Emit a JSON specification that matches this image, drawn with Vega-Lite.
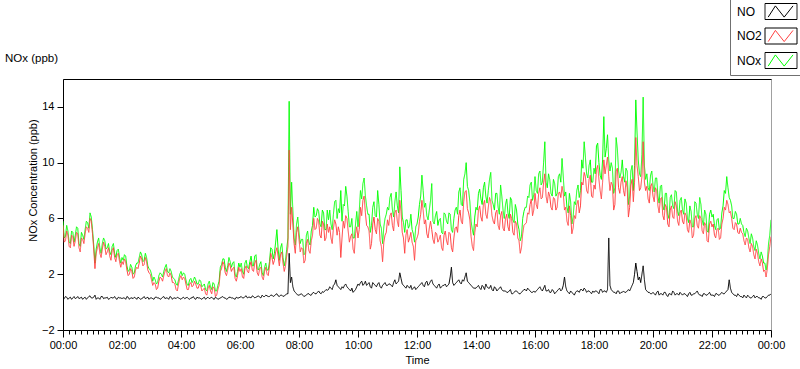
{
"$schema":"https://vega.github.io/schema/vega-lite/v6.json",
"width":708,"height":251,
"autosize":{"type":"none"},
"padding":{"left":63,"top":79,"right":29,"bottom":39},
"background":"#ffffff",
"title":{"text":"NOx (ppb)","anchor":"start","frame":"group","dx":-58,"offset":-66,"font":"Liberation Sans","fontSize":11.5,"fontWeight":"normal","color":"#000000"},
"data":{"values":[
{"t":0,"NO":0.3,"NO2":5.5,"NOx":5.8},{"t":2.5,"NO":0.25,"NO2":4.3,"NOx":4.6},{"t":5,"NO":0.4,"NO2":4.4,"NOx":4.7},{"t":7.5,"NO":0.35,"NO2":5.1,"NOx":5.5},{"t":10,"NO":0.2,"NO2":4.8,"NOx":5.1},{"t":12.5,"NO":0.3,"NO2":4.0,"NOx":4.3},{"t":15,"NO":0.35,"NO2":3.9,"NOx":4.2},{"t":17.5,"NO":0.2,"NO2":4.8,"NOx":5.1},{"t":20,"NO":0.3,"NO2":4.7,"NOx":5.0},{"t":22.5,"NO":0.4,"NO2":4.0,"NOx":4.3},{"t":25,"NO":0.25,"NO2":4.4,"NOx":4.8},{"t":27.5,"NO":0.3,"NO2":5.0,"NOx":5.4},{"t":30,"NO":0.4,"NO2":4.9,"NOx":5.3},{"t":32.5,"NO":0.25,"NO2":3.9,"NOx":4.2},{"t":35,"NO":0.3,"NO2":3.6,"NOx":4.0},{"t":37.5,"NO":0.35,"NO2":4.6,"NOx":5.0},{"t":40,"NO":0.2,"NO2":4.5,"NOx":4.8},{"t":42.5,"NO":0.3,"NO2":4.2,"NOx":4.5},{"t":45,"NO":0.35,"NO2":4.9,"NOx":5.2},{"t":47.5,"NO":0.2,"NO2":5.4,"NOx":5.8},{"t":50,"NO":0.3,"NO2":5.3,"NOx":5.7},{"t":52.5,"NO":0.4,"NO2":5.0,"NOx":5.3},{"t":55,"NO":0.45,"NO2":6.0,"NOx":6.4},{"t":57.5,"NO":0.3,"NO2":5.8,"NOx":6.1},
{"t":60,"NO":0.3,"NO2":4.9,"NOx":5.2},{"t":62.5,"NO":0.35,"NO2":3.8,"NOx":4.1},{"t":65,"NO":0.5,"NO2":2.4,"NOx":2.8},{"t":67.5,"NO":0.2,"NO2":3.5,"NOx":3.8},{"t":70,"NO":0.3,"NO2":3.9,"NOx":4.3},{"t":72.5,"NO":0.3,"NO2":4.2,"NOx":4.6},{"t":75,"NO":0.2,"NO2":3.5,"NOx":3.9},{"t":77.5,"NO":0.4,"NO2":3.2,"NOx":3.5},{"t":80,"NO":0.4,"NO2":3.8,"NOx":4.2},{"t":82.5,"NO":0.25,"NO2":4.3,"NOx":4.6},{"t":85,"NO":0.3,"NO2":4.0,"NOx":4.4},{"t":87.5,"NO":0.3,"NO2":3.4,"NOx":3.8},{"t":90,"NO":0.35,"NO2":3.6,"NOx":3.9},{"t":92.5,"NO":0.2,"NO2":3.9,"NOx":4.2},{"t":95,"NO":0.25,"NO2":3.3,"NOx":3.6},{"t":97.5,"NO":0.35,"NO2":3.0,"NOx":3.4},{"t":100,"NO":0.3,"NO2":3.7,"NOx":4.0},{"t":102.5,"NO":0.3,"NO2":3.9,"NOx":4.2},{"t":105,"NO":0.4,"NO2":3.2,"NOx":3.5},{"t":107.5,"NO":0.25,"NO2":2.9,"NOx":3.2},{"t":110,"NO":0.2,"NO2":3.4,"NOx":3.7},{"t":112.5,"NO":0.35,"NO2":3.5,"NOx":3.8},{"t":115,"NO":0.3,"NO2":2.9,"NOx":3.2},{"t":117.5,"NO":0.3,"NO2":2.5,"NOx":2.8},
{"t":120,"NO":0.25,"NO2":2.9,"NOx":3.2},{"t":122.5,"NO":0.3,"NO2":2.7,"NOx":3.0},{"t":125,"NO":0.3,"NO2":3.1,"NOx":3.4},{"t":127.5,"NO":0.2,"NO2":2.9,"NOx":3.3},{"t":130,"NO":0.4,"NO2":2.3,"NOx":2.6},{"t":132.5,"NO":0.35,"NO2":1.9,"NOx":2.2},{"t":135,"NO":0.2,"NO2":2.0,"NOx":2.3},{"t":137.5,"NO":0.3,"NO2":2.4,"NOx":2.7},{"t":140,"NO":0.3,"NO2":2.2,"NOx":2.5},{"t":142.5,"NO":0.25,"NO2":1.7,"NOx":2.0},{"t":145,"NO":0.35,"NO2":1.8,"NOx":2.1},{"t":147.5,"NO":0.3,"NO2":2.3,"NOx":2.6},{"t":150,"NO":0.2,"NO2":2.5,"NOx":2.8},{"t":152.5,"NO":0.35,"NO2":2.4,"NOx":2.8},{"t":155,"NO":0.3,"NO2":2.8,"NOx":3.2},{"t":157.5,"NO":0.2,"NO2":3.3,"NOx":3.6},{"t":160,"NO":0.25,"NO2":3.1,"NOx":3.4},{"t":162.5,"NO":0.3,"NO2":2.6,"NOx":2.9},{"t":165,"NO":0.4,"NO2":2.7,"NOx":3.0},{"t":167.5,"NO":0.25,"NO2":3.2,"NOx":3.5},{"t":170,"NO":0.3,"NO2":2.9,"NOx":3.2},{"t":172.5,"NO":0.35,"NO2":2.3,"NOx":2.6},{"t":175,"NO":0.2,"NO2":2.1,"NOx":2.4},{"t":177.5,"NO":0.3,"NO2":2.0,"NOx":2.3},
{"t":180,"NO":0.3,"NO2":1.6,"NOx":2.0},{"t":182.5,"NO":0.25,"NO2":1.2,"NOx":1.5},{"t":185,"NO":0.2,"NO2":1.4,"NOx":1.8},{"t":187.5,"NO":0.35,"NO2":1.3,"NOx":1.6},{"t":190,"NO":0.35,"NO2":0.9,"NOx":1.3},{"t":192.5,"NO":0.3,"NO2":1.0,"NOx":1.4},{"t":195,"NO":0.3,"NO2":1.5,"NOx":1.9},{"t":197.5,"NO":0.2,"NO2":1.8,"NOx":2.1},{"t":200,"NO":0.25,"NO2":1.7,"NOx":2.0},{"t":202.5,"NO":0.35,"NO2":1.5,"NOx":1.8},{"t":205,"NO":0.4,"NO2":1.9,"NOx":2.2},{"t":207.5,"NO":0.25,"NO2":2.2,"NOx":2.5},{"t":210,"NO":0.3,"NO2":2.4,"NOx":2.7},{"t":212.5,"NO":0.3,"NO2":1.9,"NOx":2.2},{"t":215,"NO":0.2,"NO2":1.8,"NOx":2.1},{"t":217.5,"NO":0.4,"NO2":2.1,"NOx":2.4},{"t":220,"NO":0.35,"NO2":1.9,"NOx":2.2},{"t":222.5,"NO":0.2,"NO2":1.4,"NOx":1.8},{"t":225,"NO":0.3,"NO2":1.4,"NOx":1.7},{"t":227.5,"NO":0.3,"NO2":1.3,"NOx":1.6},{"t":230,"NO":0.25,"NO2":0.9,"NOx":1.3},{"t":232.5,"NO":0.35,"NO2":0.8,"NOx":1.2},{"t":235,"NO":0.3,"NO2":1.3,"NOx":1.6},{"t":237.5,"NO":0.25,"NO2":1.7,"NOx":2.0},
{"t":240,"NO":0.2,"NO2":1.9,"NOx":2.2},{"t":242.5,"NO":0.3,"NO2":1.6,"NOx":1.9},{"t":245,"NO":0.35,"NO2":1.8,"NOx":2.1},{"t":247.5,"NO":0.25,"NO2":1.7,"NOx":2.0},{"t":250,"NO":0.3,"NO2":1.3,"NOx":1.6},{"t":252.5,"NO":0.35,"NO2":0.9,"NOx":1.25},{"t":255,"NO":0.25,"NO2":0.9,"NOx":1.2},{"t":257.5,"NO":0.2,"NO2":1.3,"NOx":1.6},{"t":260,"NO":0.3,"NO2":1.4,"NOx":1.7},{"t":262.5,"NO":0.3,"NO2":1.1,"NOx":1.4},{"t":265,"NO":0.4,"NO2":1.2,"NOx":1.55},{"t":267.5,"NO":0.25,"NO2":1.5,"NOx":1.8},{"t":270,"NO":0.2,"NO2":1.3,"NOx":1.6},{"t":272.5,"NO":0.35,"NO2":1.0,"NOx":1.3},{"t":275,"NO":0.3,"NO2":1.0,"NOx":1.3},{"t":277.5,"NO":0.3,"NO2":1.3,"NOx":1.6},{"t":280,"NO":0.25,"NO2":1.2,"NOx":1.5},{"t":282.5,"NO":0.2,"NO2":0.8,"NOx":1.1},{"t":285,"NO":0.3,"NO2":0.9,"NOx":1.2},{"t":287.5,"NO":0.35,"NO2":1.0,"NOx":1.3},{"t":290,"NO":0.2,"NO2":0.6,"NOx":0.9},{"t":292.5,"NO":0.3,"NO2":0.5,"NOx":0.8},{"t":295,"NO":0.35,"NO2":1.0,"NOx":1.3},{"t":297.5,"NO":0.25,"NO2":1.2,"NOx":1.5},
{"t":300,"NO":0.3,"NO2":0.8,"NOx":1.1},{"t":302.5,"NO":0.35,"NO2":0.6,"NOx":0.9},{"t":305,"NO":0.25,"NO2":1.1,"NOx":1.4},{"t":307.5,"NO":0.2,"NO2":1.0,"NOx":1.3},{"t":310,"NO":0.35,"NO2":0.4,"NOx":0.8},{"t":312.5,"NO":0.3,"NO2":0.5,"NOx":0.8},{"t":315,"NO":0.2,"NO2":0.9,"NOx":1.2},{"t":317.5,"NO":0.25,"NO2":1.2,"NOx":1.5},{"t":320,"NO":0.3,"NO2":2.2,"NOx":2.5},{"t":322.5,"NO":0.35,"NO2":2.4,"NOx":2.7},{"t":325,"NO":0.4,"NO2":2.9,"NOx":3.1},{"t":327.5,"NO":0.3,"NO2":2.7,"NOx":3.1},{"t":330,"NO":0.3,"NO2":2.1,"NOx":2.5},{"t":332.5,"NO":0.2,"NO2":1.9,"NOx":2.2},{"t":335,"NO":0.25,"NO2":2.3,"NOx":2.6},{"t":337.5,"NO":0.35,"NO2":2.8,"NOx":3.2},{"t":340,"NO":0.35,"NO2":2.6,"NOx":2.9},{"t":342.5,"NO":0.3,"NO2":2.2,"NOx":2.5},{"t":345,"NO":0.3,"NO2":2.4,"NOx":2.8},{"t":347.5,"NO":0.25,"NO2":2.5,"NOx":2.9},{"t":350,"NO":0.2,"NO2":1.7,"NOx":2.0},{"t":352.5,"NO":0.35,"NO2":1.5,"NOx":1.8},{"t":355,"NO":0.3,"NO2":1.9,"NOx":2.2},{"t":357.5,"NO":0.3,"NO2":2.5,"NOx":2.8},
{"t":360,"NO":0.35,"NO2":2.2,"NOx":2.5},{"t":362.5,"NO":0.4,"NO2":2.4,"NOx":2.8},{"t":365,"NO":0.3,"NO2":1.8,"NOx":2.2},{"t":367.5,"NO":0.3,"NO2":1.7,"NOx":2.0},{"t":370,"NO":0.4,"NO2":2.4,"NOx":2.8},{"t":372.5,"NO":0.45,"NO2":2.6,"NOx":3.0},{"t":375,"NO":0.3,"NO2":2.2,"NOx":2.5},{"t":377.5,"NO":0.35,"NO2":2.1,"NOx":2.4},{"t":380,"NO":0.35,"NO2":2.6,"NOx":2.9},{"t":382.5,"NO":0.3,"NO2":2.9,"NOx":3.3},{"t":385,"NO":0.45,"NO2":2.3,"NOx":2.6},{"t":387.5,"NO":0.4,"NO2":2.2,"NOx":2.6},{"t":390,"NO":0.3,"NO2":2.8,"NOx":3.3},{"t":392.5,"NO":0.35,"NO2":3.0,"NOx":3.4},{"t":395,"NO":0.4,"NO2":2.1,"NOx":2.4},{"t":397.5,"NO":0.45,"NO2":1.9,"NOx":2.3},{"t":400,"NO":0.35,"NO2":2.4,"NOx":2.7},{"t":402.5,"NO":0.3,"NO2":2.5,"NOx":2.9},{"t":405,"NO":0.5,"NO2":1.8,"NOx":2.1},{"t":407.5,"NO":0.4,"NO2":1.6,"NOx":1.9},{"t":410,"NO":0.4,"NO2":2.2,"NOx":2.5},{"t":412.5,"NO":0.5,"NO2":2.5,"NOx":2.8},{"t":415,"NO":0.45,"NO2":2.0,"NOx":2.3},{"t":417.5,"NO":0.4,"NO2":1.9,"NOx":2.3},
{"t":420,"NO":0.4,"NO2":2.6,"NOx":2.9},{"t":422.5,"NO":0.5,"NO2":3.5,"NOx":3.9},{"t":425,"NO":0.5,"NO2":3.2,"NOx":3.8},{"t":427.5,"NO":0.4,"NO2":2.7,"NOx":3.1},{"t":430,"NO":0.45,"NO2":3.0,"NOx":3.5},{"t":432.5,"NO":0.55,"NO2":3.6,"NOx":4.3},{"t":435,"NO":0.6,"NO2":3.9,"NOx":5.2},{"t":437.5,"NO":0.45,"NO2":3.3,"NOx":3.8},{"t":440,"NO":0.4,"NO2":2.6,"NOx":3.0},{"t":442.5,"NO":0.5,"NO2":3.4,"NOx":3.9},{"t":445,"NO":0.5,"NO2":3.6,"NOx":4.2},{"t":447.5,"NO":0.4,"NO2":2.8,"NOx":3.2},{"t":450,"NO":0.45,"NO2":2.2,"NOx":2.6},{"t":452.5,"NO":0.5,"NO2":2.6,"NOx":3.0},{"t":455,"NO":0.6,"NO2":3.3,"NOx":3.8},{"t":457.5,"NO":0.6,"NO2":4.0,"NOx":4.6},{"t":460,"NO":3.5,"NO2":10.9,"NOx":14.4},{"t":462.5,"NO":1.4,"NO2":5.2,"NOx":6.3},{"t":465,"NO":1.8,"NO2":6.8,"NOx":8.6},{"t":467.5,"NO":1.1,"NO2":5.6,"NOx":6.6},{"t":470,"NO":0.8,"NO2":4.2,"NOx":4.6},{"t":472.5,"NO":0.7,"NO2":3.5,"NOx":4.1},{"t":475,"NO":0.6,"NO2":5.0,"NOx":5.6},{"t":477.5,"NO":0.5,"NO2":5.4,"NOx":6.1},
{"t":480,"NO":0.5,"NO2":4.5,"NOx":5.0},{"t":482.5,"NO":0.55,"NO2":3.6,"NOx":4.2},{"t":485,"NO":0.6,"NO2":3.9,"NOx":4.5},{"t":487.5,"NO":0.5,"NO2":3.8,"NOx":4.5},{"t":490,"NO":0.4,"NO2":2.8,"NOx":3.4},{"t":492.5,"NO":0.45,"NO2":3.0,"NOx":3.5},{"t":495,"NO":0.5,"NO2":4.2,"NOx":4.8},{"t":497.5,"NO":0.6,"NO2":4.5,"NOx":5.1},{"t":500,"NO":0.6,"NO2":3.7,"NOx":4.3},{"t":502.5,"NO":0.5,"NO2":3.5,"NOx":4.1},{"t":505,"NO":0.5,"NO2":4.4,"NOx":5.1},{"t":507.5,"NO":0.65,"NO2":4.8,"NOx":5.5},{"t":510,"NO":0.7,"NO2":6.0,"NOx":6.8},{"t":512.5,"NO":0.6,"NO2":5.2,"NOx":6.1},{"t":515,"NO":0.6,"NO2":5.3,"NOx":6.2},{"t":517.5,"NO":0.7,"NO2":6.0,"NOx":6.7},{"t":520,"NO":0.8,"NO2":5.8,"NOx":6.5},{"t":522.5,"NO":0.65,"NO2":4.8,"NOx":5.6},{"t":525,"NO":0.6,"NO2":4.6,"NOx":5.4},{"t":527.5,"NO":0.75,"NO2":5.8,"NOx":6.6},{"t":530,"NO":0.7,"NO2":5.6,"NOx":6.4},{"t":532.5,"NO":0.8,"NO2":4.4,"NOx":5.2},{"t":535,"NO":0.9,"NO2":4.6,"NOx":5.2},{"t":537.5,"NO":0.85,"NO2":5.6,"NOx":6.6},
{"t":540,"NO":0.9,"NO2":5.0,"NOx":5.9},{"t":542.5,"NO":1.1,"NO2":5.4,"NOx":6.6},{"t":545,"NO":1.0,"NO2":4.6,"NOx":5.6},{"t":547.5,"NO":0.9,"NO2":4.2,"NOx":5.2},{"t":550,"NO":1.2,"NO2":5.3,"NOx":6.3},{"t":552.5,"NO":1.3,"NO2":5.9,"NOx":7.2},{"t":555,"NO":1.6,"NO2":5.6,"NOx":7.3},{"t":557.5,"NO":1.2,"NO2":4.8,"NOx":6.0},{"t":560,"NO":1.1,"NO2":5.4,"NOx":6.7},{"t":562.5,"NO":1.0,"NO2":5.0,"NOx":6.4},{"t":565,"NO":0.9,"NO2":3.2,"NOx":8.0},{"t":567.5,"NO":1.1,"NO2":4.6,"NOx":5.8},{"t":570,"NO":1.0,"NO2":5.8,"NOx":7.0},{"t":572.5,"NO":1.2,"NO2":5.3,"NOx":6.9},{"t":575,"NO":1.3,"NO2":6.2,"NOx":8.3},{"t":577.5,"NO":1.1,"NO2":6.0,"NOx":7.6},{"t":580,"NO":1.0,"NO2":5.1,"NOx":6.5},{"t":582.5,"NO":0.9,"NO2":4.3,"NOx":5.4},{"t":585,"NO":0.8,"NO2":4.7,"NOx":5.4},{"t":587.5,"NO":1.0,"NO2":4.9,"NOx":6.0},{"t":590,"NO":0.7,"NO2":3.8,"NOx":4.6},{"t":592.5,"NO":0.8,"NO2":3.5,"NOx":4.6},{"t":595,"NO":0.9,"NO2":4.9,"NOx":5.6},{"t":597.5,"NO":1.1,"NO2":5.4,"NOx":6.5},
{"t":600,"NO":1.3,"NO2":4.6,"NOx":5.4},{"t":602.5,"NO":1.2,"NO2":5.2,"NOx":6.5},{"t":605,"NO":1.4,"NO2":6.8,"NOx":8.0},{"t":607.5,"NO":1.5,"NO2":6.2,"NOx":7.4},{"t":610,"NO":1.2,"NO2":7.3,"NOx":8.5},{"t":612.5,"NO":1.3,"NO2":7.6,"NOx":8.9},{"t":615,"NO":1.5,"NO2":6.4,"NOx":7.6},{"t":617.5,"NO":1.2,"NO2":5.5,"NOx":6.9},{"t":620,"NO":1.3,"NO2":5.4,"NOx":6.3},{"t":622.5,"NO":1.4,"NO2":5.1,"NOx":6.3},{"t":625,"NO":1.1,"NO2":3.8,"NOx":5.0},{"t":627.5,"NO":1.0,"NO2":4.2,"NOx":5.5},{"t":630,"NO":1.4,"NO2":5.6,"NOx":6.8},{"t":632.5,"NO":1.3,"NO2":6.1,"NOx":7.2},{"t":635,"NO":1.2,"NO2":5.2,"NOx":6.2},{"t":637.5,"NO":1.1,"NO2":4.9,"NOx":6.1},{"t":640,"NO":1.3,"NO2":6.0,"NOx":8.0},{"t":642.5,"NO":1.4,"NO2":5.8,"NOx":7.0},{"t":645,"NO":1.1,"NO2":4.4,"NOx":5.6},{"t":647.5,"NO":1.0,"NO2":4.0,"NOx":5.3},{"t":650,"NO":1.2,"NO2":2.9,"NOx":4.2},{"t":652.5,"NO":1.3,"NO2":4.3,"NOx":5.4},{"t":655,"NO":1.4,"NO2":4.8,"NOx":6.0},{"t":657.5,"NO":1.2,"NO2":5.0,"NOx":6.3},
{"t":660,"NO":1.2,"NO2":5.9,"NOx":6.8},{"t":662.5,"NO":1.3,"NO2":5.5,"NOx":6.6},{"t":665,"NO":1.3,"NO2":6.2,"NOx":7.5},{"t":667.5,"NO":1.2,"NO2":6.4,"NOx":7.8},{"t":670,"NO":1.1,"NO2":5.5,"NOx":6.6},{"t":672.5,"NO":1.4,"NO2":5.1,"NOx":6.1},{"t":675,"NO":1.6,"NO2":6.4,"NOx":7.2},{"t":677.5,"NO":1.3,"NO2":6.6,"NOx":7.9},{"t":680,"NO":1.4,"NO2":5.8,"NOx":6.9},{"t":682.5,"NO":1.5,"NO2":5.4,"NOx":6.4},{"t":685,"NO":2.1,"NO2":7.3,"NOx":9.7},{"t":687.5,"NO":1.7,"NO2":6.5,"NOx":8.0},{"t":690,"NO":1.3,"NO2":5.0,"NOx":6.1},{"t":692.5,"NO":1.2,"NO2":4.6,"NOx":5.7},{"t":695,"NO":1.1,"NO2":3.5,"NOx":5.0},{"t":697.5,"NO":1.0,"NO2":4.8,"NOx":5.9},{"t":700,"NO":1.2,"NO2":5.2,"NOx":5.9},{"t":702.5,"NO":1.1,"NO2":4.3,"NOx":5.3},{"t":705,"NO":1.0,"NO2":4.6,"NOx":5.5},{"t":707.5,"NO":1.2,"NO2":5.0,"NOx":6.3},{"t":710,"NO":0.9,"NO2":4.3,"NOx":5.2},{"t":712.5,"NO":1.0,"NO2":4.0,"NOx":4.9},{"t":715,"NO":1.1,"NO2":3.0,"NOx":4.3},{"t":717.5,"NO":0.9,"NO2":4.4,"NOx":5.4},
{"t":720,"NO":1.0,"NO2":4.6,"NOx":5.6},{"t":722.5,"NO":1.1,"NO2":4.9,"NOx":6.1},{"t":725,"NO":1.2,"NO2":5.8,"NOx":7.0},{"t":727.5,"NO":1.3,"NO2":6.3,"NOx":7.6},{"t":730,"NO":1.4,"NO2":7.3,"NOx":9.1},{"t":732.5,"NO":1.2,"NO2":6.6,"NOx":8.0},{"t":735,"NO":1.1,"NO2":5.6,"NOx":6.8},{"t":737.5,"NO":1.4,"NO2":5.9,"NOx":7.1},{"t":740,"NO":1.5,"NO2":4.9,"NOx":6.2},{"t":742.5,"NO":1.2,"NO2":4.6,"NOx":5.9},{"t":745,"NO":1.3,"NO2":5.3,"NOx":6.6},{"t":747.5,"NO":1.5,"NO2":5.8,"NOx":7.3},{"t":750,"NO":1.6,"NO2":5.2,"NOx":8.5},{"t":752.5,"NO":1.3,"NO2":4.5,"NOx":5.8},{"t":755,"NO":1.2,"NO2":4.2,"NOx":5.6},{"t":757.5,"NO":1.1,"NO2":5.0,"NOx":6.2},{"t":760,"NO":1.0,"NO2":4.9,"NOx":6.5},{"t":762.5,"NO":1.2,"NO2":4.3,"NOx":5.5},{"t":765,"NO":1.3,"NO2":4.5,"NOx":5.9},{"t":767.5,"NO":1.0,"NO2":4.8,"NOx":6.0},{"t":770,"NO":1.1,"NO2":3.9,"NOx":5.0},{"t":772.5,"NO":1.2,"NO2":3.7,"NOx":4.9},{"t":775,"NO":1.2,"NO2":4.8,"NOx":6.4},{"t":777.5,"NO":1.3,"NO2":5.1,"NOx":6.3},
{"t":780,"NO":1.1,"NO2":4.4,"NOx":5.8},{"t":782.5,"NO":1.2,"NO2":4.1,"NOx":5.6},{"t":785,"NO":1.3,"NO2":5.0,"NOx":6.4},{"t":787.5,"NO":1.8,"NO2":4.9,"NOx":6.3},{"t":790,"NO":2.5,"NO2":3.9,"NOx":5.2},{"t":792.5,"NO":1.4,"NO2":3.6,"NOx":5.0},{"t":795,"NO":1.2,"NO2":4.6,"NOx":6.0},{"t":797.5,"NO":1.3,"NO2":5.3,"NOx":6.6},{"t":800,"NO":1.4,"NO2":5.4,"NOx":6.8},{"t":802.5,"NO":1.5,"NO2":5.0,"NOx":6.3},{"t":805,"NO":1.6,"NO2":6.2,"NOx":7.9},{"t":807.5,"NO":1.4,"NO2":6.6,"NOx":8.2},{"t":810,"NO":1.3,"NO2":5.8,"NOx":7.0},{"t":812.5,"NO":1.6,"NO2":5.6,"NOx":6.9},{"t":815,"NO":1.5,"NO2":7.2,"NOx":8.8},{"t":817.5,"NO":1.8,"NO2":7.9,"NOx":9.2},{"t":820,"NO":2.1,"NO2":8.0,"NOx":10.0},{"t":822.5,"NO":1.5,"NO2":6.7,"NOx":8.3},{"t":825,"NO":1.4,"NO2":6.4,"NOx":8.0},{"t":827.5,"NO":1.3,"NO2":5.9,"NOx":7.2},{"t":830,"NO":1.2,"NO2":4.7,"NOx":5.8},{"t":832.5,"NO":1.1,"NO2":4.0,"NOx":5.2},{"t":835,"NO":1.0,"NO2":3.7,"NOx":4.8},{"t":837.5,"NO":1.0,"NO2":5.0,"NOx":6.1},
{"t":840,"NO":1.0,"NO2":5.6,"NOx":6.8},{"t":842.5,"NO":1.1,"NO2":5.4,"NOx":6.6},{"t":845,"NO":1.2,"NO2":6.6,"NOx":7.8},{"t":847.5,"NO":1.0,"NO2":6.9,"NOx":8.1},{"t":850,"NO":0.9,"NO2":6.1,"NOx":7.4},{"t":852.5,"NO":1.2,"NO2":5.8,"NOx":7.0},{"t":855,"NO":1.1,"NO2":7.0,"NOx":8.2},{"t":857.5,"NO":0.9,"NO2":7.3,"NOx":8.6},{"t":860,"NO":1.3,"NO2":6.3,"NOx":7.6},{"t":862.5,"NO":1.1,"NO2":6.0,"NOx":7.1},{"t":865,"NO":1.0,"NO2":6.8,"NOx":8.0},{"t":867.5,"NO":1.0,"NO2":7.5,"NOx":8.8},{"t":870,"NO":1.2,"NO2":7.2,"NOx":9.3},{"t":872.5,"NO":0.9,"NO2":6.2,"NOx":7.3},{"t":875,"NO":0.8,"NO2":5.8,"NOx":7.0},{"t":877.5,"NO":1.1,"NO2":5.6,"NOx":6.6},{"t":880,"NO":1.0,"NO2":6.4,"NOx":7.8},{"t":882.5,"NO":0.8,"NO2":6.6,"NOx":7.8},{"t":885,"NO":0.9,"NO2":5.5,"NOx":6.8},{"t":887.5,"NO":1.0,"NO2":5.2,"NOx":6.3},{"t":890,"NO":1.1,"NO2":6.2,"NOx":8.4},{"t":892.5,"NO":0.9,"NO2":6.5,"NOx":7.6},{"t":895,"NO":0.8,"NO2":5.3,"NOx":6.6},{"t":897.5,"NO":0.8,"NO2":5.1,"NOx":6.0},
{"t":900,"NO":0.8,"NO2":6.0,"NOx":7.0},{"t":902.5,"NO":0.7,"NO2":6.3,"NOx":7.4},{"t":905,"NO":0.7,"NO2":5.4,"NOx":6.4},{"t":907.5,"NO":0.8,"NO2":5.1,"NOx":6.0},{"t":910,"NO":0.9,"NO2":6.3,"NOx":7.5},{"t":912.5,"NO":0.6,"NO2":6.0,"NOx":7.3},{"t":915,"NO":0.6,"NO2":5.0,"NOx":5.9},{"t":917.5,"NO":0.7,"NO2":4.8,"NOx":5.7},{"t":920,"NO":0.8,"NO2":5.8,"NOx":7.0},{"t":922.5,"NO":0.8,"NO2":5.6,"NOx":6.6},{"t":925,"NO":0.7,"NO2":4.6,"NOx":5.6},{"t":927.5,"NO":0.6,"NO2":4.4,"NOx":5.2},{"t":930,"NO":0.6,"NO2":3.5,"NOx":4.4},{"t":932.5,"NO":0.7,"NO2":3.9,"NOx":4.7},{"t":935,"NO":0.8,"NO2":4.9,"NOx":6.0},{"t":937.5,"NO":0.9,"NO2":5.5,"NOx":6.5},{"t":940,"NO":0.9,"NO2":5.6,"NOx":6.8},{"t":942.5,"NO":0.8,"NO2":5.7,"NOx":6.8},{"t":945,"NO":1.0,"NO2":6.4,"NOx":7.6},{"t":947.5,"NO":0.9,"NO2":6.3,"NOx":7.5},{"t":950,"NO":0.8,"NO2":7.0,"NOx":8.4},{"t":952.5,"NO":0.7,"NO2":7.4,"NOx":8.6},{"t":955,"NO":0.7,"NO2":6.2,"NOx":7.3},{"t":957.5,"NO":0.8,"NO2":6.6,"NOx":7.7},
{"t":960,"NO":0.7,"NO2":7.8,"NOx":9.0},{"t":962.5,"NO":0.8,"NO2":7.0,"NOx":8.0},{"t":965,"NO":0.9,"NO2":6.7,"NOx":7.8},{"t":967.5,"NO":1.0,"NO2":7.8,"NOx":9.2},{"t":970,"NO":1.1,"NO2":8.2,"NOx":9.4},{"t":972.5,"NO":0.9,"NO2":7.4,"NOx":8.4},{"t":975,"NO":0.8,"NO2":7.5,"NOx":8.6},{"t":977.5,"NO":1.0,"NO2":8.6,"NOx":10.0},{"t":980,"NO":1.2,"NO2":9.2,"NOx":11.5},{"t":982.5,"NO":0.8,"NO2":7.6,"NOx":8.6},{"t":985,"NO":0.8,"NO2":7.1,"NOx":8.2},{"t":987.5,"NO":0.9,"NO2":7.9,"NOx":9.2},{"t":990,"NO":0.7,"NO2":7.6,"NOx":8.8},{"t":992.5,"NO":0.7,"NO2":6.8,"NOx":7.8},{"t":995,"NO":0.9,"NO2":6.6,"NOx":7.6},{"t":997.5,"NO":0.8,"NO2":7.5,"NOx":8.8},{"t":1000,"NO":0.6,"NO2":7.4,"NOx":8.5},{"t":1002.5,"NO":0.7,"NO2":6.6,"NOx":7.6},{"t":1005,"NO":0.8,"NO2":6.8,"NOx":7.8},{"t":1007.5,"NO":0.9,"NO2":7.8,"NOx":9.0},{"t":1010,"NO":1.0,"NO2":7.9,"NOx":9.2},{"t":1012.5,"NO":0.8,"NO2":7.5,"NOx":8.6},{"t":1015,"NO":0.9,"NO2":8.3,"NOx":10.3},{"t":1017.5,"NO":1.2,"NO2":7.8,"NOx":9.0},
{"t":1020,"NO":1.8,"NO2":6.6,"NOx":7.6},{"t":1022.5,"NO":1.1,"NO2":6.8,"NOx":7.9},{"t":1025,"NO":0.8,"NO2":5.8,"NOx":6.8},{"t":1027.5,"NO":0.7,"NO2":5.5,"NOx":6.4},{"t":1030,"NO":0.6,"NO2":6.9,"NOx":7.8},{"t":1032.5,"NO":0.8,"NO2":6.2,"NOx":7.2},{"t":1035,"NO":0.7,"NO2":4.9,"NOx":5.6},{"t":1037.5,"NO":0.6,"NO2":5.3,"NOx":6.1},{"t":1040,"NO":0.5,"NO2":6.2,"NOx":7.2},{"t":1042.5,"NO":0.7,"NO2":6.0,"NOx":7.0},{"t":1045,"NO":0.8,"NO2":7.0,"NOx":8.0},{"t":1047.5,"NO":0.8,"NO2":7.3,"NOx":8.4},{"t":1050,"NO":0.7,"NO2":6.4,"NOx":7.5},{"t":1052.5,"NO":0.9,"NO2":6.9,"NOx":8.0},{"t":1055,"NO":0.9,"NO2":8.6,"NOx":10.2},{"t":1057.5,"NO":0.8,"NO2":8.4,"NOx":9.6},{"t":1060,"NO":1.0,"NO2":9.3,"NOx":11.5},{"t":1062.5,"NO":0.9,"NO2":9.0,"NOx":10.4},{"t":1065,"NO":0.7,"NO2":8.0,"NOx":9.2},{"t":1067.5,"NO":0.8,"NO2":7.8,"NOx":8.9},{"t":1070,"NO":0.8,"NO2":8.8,"NOx":9.8},{"t":1072.5,"NO":0.7,"NO2":9.1,"NOx":10.2},{"t":1075,"NO":0.6,"NO2":7.6,"NOx":8.6},{"t":1077.5,"NO":0.8,"NO2":7.5,"NOx":8.6},
{"t":1080,"NO":0.7,"NO2":8.4,"NOx":9.6},{"t":1082.5,"NO":0.8,"NO2":8.1,"NOx":9.2},{"t":1085,"NO":0.8,"NO2":9.5,"NOx":11.2},{"t":1087.5,"NO":0.7,"NO2":9.8,"NOx":11.4},{"t":1090,"NO":0.6,"NO2":8.8,"NOx":10.0},{"t":1092.5,"NO":0.9,"NO2":8.0,"NOx":9.1},{"t":1095,"NO":0.9,"NO2":7.4,"NOx":8.8},{"t":1097.5,"NO":0.7,"NO2":8.6,"NOx":10.2},{"t":1100,"NO":0.8,"NO2":10.2,"NOx":13.3},{"t":1102.5,"NO":0.8,"NO2":9.2,"NOx":10.4},{"t":1105,"NO":0.7,"NO2":9.8,"NOx":11.0},{"t":1107.5,"NO":0.9,"NO2":10.4,"NOx":12.0},{"t":1110,"NO":4.6,"NO2":9.0,"NOx":10.2},{"t":1112.5,"NO":1.2,"NO2":8.0,"NOx":9.4},{"t":1115,"NO":0.9,"NO2":8.6,"NOx":10.0},{"t":1117.5,"NO":0.8,"NO2":8.4,"NOx":9.6},{"t":1120,"NO":0.7,"NO2":6.6,"NOx":7.8},{"t":1122.5,"NO":0.7,"NO2":7.0,"NOx":8.2},{"t":1125,"NO":0.6,"NO2":9.4,"NOx":11.8},{"t":1127.5,"NO":0.8,"NO2":9.6,"NOx":11.0},{"t":1130,"NO":0.8,"NO2":8.2,"NOx":9.4},{"t":1132.5,"NO":0.6,"NO2":7.8,"NOx":8.9},{"t":1135,"NO":0.7,"NO2":8.6,"NOx":9.3},{"t":1137.5,"NO":0.7,"NO2":9.0,"NOx":10.2},
{"t":1140,"NO":0.8,"NO2":8.0,"NOx":9.0},{"t":1142.5,"NO":0.7,"NO2":7.6,"NOx":8.6},{"t":1145,"NO":0.7,"NO2":8.7,"NOx":9.6},{"t":1147.5,"NO":0.8,"NO2":8.2,"NOx":9.4},{"t":1150,"NO":0.9,"NO2":6.1,"NOx":7.0},{"t":1152.5,"NO":0.8,"NO2":6.8,"NOx":7.6},{"t":1155,"NO":1.0,"NO2":8.4,"NOx":9.4},{"t":1157.5,"NO":1.2,"NO2":8.8,"NOx":9.8},{"t":1160,"NO":1.4,"NO2":7.2,"NOx":8.0},{"t":1162.5,"NO":2.0,"NO2":8.6,"NOx":9.8},{"t":1165,"NO":2.8,"NO2":11.8,"NOx":14.5},{"t":1167.5,"NO":2.2,"NO2":9.8,"NOx":12.2},{"t":1170,"NO":1.6,"NO2":9.0,"NOx":10.2},{"t":1172.5,"NO":1.8,"NO2":8.0,"NOx":9.2},{"t":1175,"NO":1.4,"NO2":8.2,"NOx":9.0},{"t":1177.5,"NO":2.0,"NO2":9.0,"NOx":10.6},{"t":1180,"NO":2.6,"NO2":11.5,"NOx":14.7},{"t":1182.5,"NO":1.6,"NO2":8.6,"NOx":9.8},{"t":1185,"NO":0.9,"NO2":8.0,"NOx":8.8},{"t":1187.5,"NO":0.8,"NO2":8.3,"NOx":9.2},{"t":1190,"NO":0.7,"NO2":7.4,"NOx":8.2},{"t":1192.5,"NO":0.7,"NO2":7.1,"NOx":8.0},{"t":1195,"NO":0.6,"NO2":8.3,"NOx":9.1},{"t":1197.5,"NO":0.6,"NO2":8.5,"NOx":9.4},
{"t":1200,"NO":0.7,"NO2":7.6,"NOx":8.4},{"t":1202.5,"NO":0.6,"NO2":7.2,"NOx":7.9},{"t":1205,"NO":0.5,"NO2":8.2,"NOx":8.9},{"t":1207.5,"NO":0.7,"NO2":8.0,"NOx":8.9},{"t":1210,"NO":0.8,"NO2":6.9,"NOx":7.6},{"t":1212.5,"NO":0.5,"NO2":6.4,"NOx":7.1},{"t":1215,"NO":0.6,"NO2":7.4,"NOx":8.3},{"t":1217.5,"NO":0.6,"NO2":7.5,"NOx":8.4},{"t":1220,"NO":0.5,"NO2":6.2,"NOx":6.9},{"t":1222.5,"NO":0.7,"NO2":5.9,"NOx":6.6},{"t":1225,"NO":0.7,"NO2":7.0,"NOx":7.8},{"t":1227.5,"NO":0.5,"NO2":6.8,"NOx":7.8},{"t":1230,"NO":0.4,"NO2":5.6,"NOx":6.3},{"t":1232.5,"NO":0.6,"NO2":5.4,"NOx":6.0},{"t":1235,"NO":0.6,"NO2":6.6,"NOx":7.5},{"t":1237.5,"NO":0.5,"NO2":6.9,"NOx":7.7},{"t":1240,"NO":0.8,"NO2":6.1,"NOx":6.9},{"t":1242.5,"NO":0.7,"NO2":6.0,"NOx":6.7},{"t":1245,"NO":0.5,"NO2":7.2,"NOx":8.0},{"t":1247.5,"NO":0.6,"NO2":6.9,"NOx":7.9},{"t":1250,"NO":0.6,"NO2":5.8,"NOx":6.5},{"t":1252.5,"NO":0.5,"NO2":5.5,"NOx":6.2},{"t":1255,"NO":0.7,"NO2":6.4,"NOx":7.3},{"t":1257.5,"NO":0.6,"NO2":6.6,"NOx":7.5},
{"t":1260,"NO":0.5,"NO2":5.8,"NOx":6.6},{"t":1262.5,"NO":0.6,"NO2":5.6,"NOx":6.3},{"t":1265,"NO":0.6,"NO2":6.4,"NOx":7.4},{"t":1267.5,"NO":0.5,"NO2":6.2,"NOx":7.1},{"t":1270,"NO":0.4,"NO2":5.2,"NOx":6.0},{"t":1272.5,"NO":0.6,"NO2":5.0,"NOx":5.7},{"t":1275,"NO":0.7,"NO2":5.9,"NOx":6.9},{"t":1277.5,"NO":0.5,"NO2":5.6,"NOx":6.5},{"t":1280,"NO":0.5,"NO2":4.6,"NOx":5.4},{"t":1282.5,"NO":0.6,"NO2":4.8,"NOx":5.4},{"t":1285,"NO":0.6,"NO2":6.0,"NOx":7.2},{"t":1287.5,"NO":0.7,"NO2":6.2,"NOx":7.1},{"t":1290,"NO":0.8,"NO2":5.5,"NOx":6.3},{"t":1292.5,"NO":0.6,"NO2":5.3,"NOx":6.0},{"t":1295,"NO":0.5,"NO2":6.2,"NOx":7.5},{"t":1297.5,"NO":0.5,"NO2":6.0,"NOx":7.0},{"t":1300,"NO":0.4,"NO2":5.1,"NOx":5.9},{"t":1302.5,"NO":0.6,"NO2":4.9,"NOx":5.5},{"t":1305,"NO":0.6,"NO2":5.7,"NOx":6.6},{"t":1307.5,"NO":0.5,"NO2":5.5,"NOx":6.3},{"t":1310,"NO":0.5,"NO2":4.4,"NOx":5.1},{"t":1312.5,"NO":0.6,"NO2":4.3,"NOx":5.0},{"t":1315,"NO":0.7,"NO2":5.6,"NOx":6.3},{"t":1317.5,"NO":0.5,"NO2":5.8,"NOx":6.6},
{"t":1320,"NO":0.5,"NO2":5.4,"NOx":6.1},{"t":1322.5,"NO":0.5,"NO2":5.6,"NOx":6.3},{"t":1325,"NO":0.4,"NO2":4.8,"NOx":5.5},{"t":1327.5,"NO":0.6,"NO2":4.6,"NOx":5.2},{"t":1330,"NO":0.6,"NO2":5.2,"NOx":5.9},{"t":1332.5,"NO":0.5,"NO2":5.3,"NOx":6.0},{"t":1335,"NO":0.5,"NO2":4.5,"NOx":5.2},{"t":1337.5,"NO":0.6,"NO2":4.6,"NOx":5.3},{"t":1340,"NO":0.7,"NO2":5.6,"NOx":6.4},{"t":1342.5,"NO":0.6,"NO2":6.0,"NOx":6.9},{"t":1345,"NO":0.6,"NO2":6.8,"NOx":8.0},{"t":1347.5,"NO":0.7,"NO2":6.6,"NOx":7.8},{"t":1350,"NO":0.8,"NO2":7.3,"NOx":9.0},{"t":1352.5,"NO":0.9,"NO2":7.0,"NOx":8.2},{"t":1355,"NO":1.6,"NO2":6.4,"NOx":7.5},{"t":1357.5,"NO":1.0,"NO2":6.5,"NOx":7.3},{"t":1360,"NO":0.7,"NO2":6.0,"NOx":6.9},{"t":1362.5,"NO":0.6,"NO2":5.3,"NOx":6.0},{"t":1365,"NO":0.5,"NO2":5.2,"NOx":6.0},{"t":1367.5,"NO":0.5,"NO2":5.7,"NOx":6.5},{"t":1370,"NO":0.4,"NO2":5.6,"NOx":6.3},{"t":1372.5,"NO":0.6,"NO2":5.0,"NOx":5.6},{"t":1375,"NO":0.5,"NO2":4.9,"NOx":5.6},{"t":1377.5,"NO":0.4,"NO2":5.3,"NOx":6.0},
{"t":1380,"NO":0.4,"NO2":5.0,"NOx":5.6},{"t":1382.5,"NO":0.3,"NO2":4.9,"NOx":5.5},{"t":1385,"NO":0.5,"NO2":4.4,"NOx":5.0},{"t":1387.5,"NO":0.4,"NO2":4.1,"NOx":4.7},{"t":1390,"NO":0.3,"NO2":4.6,"NOx":5.3},{"t":1392.5,"NO":0.5,"NO2":4.5,"NOx":5.1},{"t":1395,"NO":0.4,"NO2":3.9,"NOx":4.6},{"t":1397.5,"NO":0.3,"NO2":3.6,"NOx":4.2},{"t":1400,"NO":0.3,"NO2":4.2,"NOx":4.9},{"t":1402.5,"NO":0.4,"NO2":4.0,"NOx":4.6},{"t":1405,"NO":0.5,"NO2":3.4,"NOx":4.0},{"t":1407.5,"NO":0.3,"NO2":3.1,"NOx":3.7},{"t":1410,"NO":0.4,"NO2":3.8,"NOx":4.4},{"t":1412.5,"NO":0.4,"NO2":3.5,"NOx":4.1},{"t":1415,"NO":0.3,"NO2":2.9,"NOx":3.5},{"t":1417.5,"NO":0.3,"NO2":2.6,"NOx":3.1},{"t":1420,"NO":0.2,"NO2":3.1,"NOx":3.6},{"t":1422.5,"NO":0.4,"NO2":2.8,"NOx":3.3},{"t":1425,"NO":0.4,"NO2":2.2,"NOx":2.8},{"t":1427.5,"NO":0.3,"NO2":2.3,"NOx":2.8},{"t":1430,"NO":0.3,"NO2":1.8,"NOx":2.3},{"t":1432.5,"NO":0.4,"NO2":2.4,"NOx":2.9},{"t":1435,"NO":0.5,"NO2":3.4,"NOx":4.2},{"t":1437.5,"NO":0.5,"NO2":4.0,"NOx":4.8},{"t":1440,"NO":0.6,"NO2":4.7,"NOx":5.9}
]},
"layer":[
 {"mark":{"type":"line","strokeWidth":1,"clip":true},
  "encoding":{
   "x":{"field":"t","type":"quantitative","title":"Time",
    "scale":{"domain":[0,1440],"nice":false,"zero":false},
    "axis":{"values":[0,12,24,36,48,60,72,84,96,108,120,132,144,156,168,180,192,204,216,228,240,252,264,276,288,300,312,324,336,348,360,372,384,396,408,420,432,444,456,468,480,492,504,516,528,540,552,564,576,588,600,612,624,636,648,660,672,684,696,708,720,732,744,756,768,780,792,804,816,828,840,852,864,876,888,900,912,924,936,948,960,972,984,996,1008,1020,1032,1044,1056,1068,1080,1092,1104,1116,1128,1140,1152,1164,1176,1188,1200,1212,1224,1236,1248,1260,1272,1284,1296,1308,1320,1332,1344,1356,1368,1380,1392,1404,1416,1428,1440],
     "labelExpr":"datum.value % 120 == 0 ? (((datum.value/60)%24) < 10 ? '0' : '') + ((datum.value/60)%24) + ':00' : ''",
     "tickSize":{"condition":{"test":"datum.value % 120 == 0","value":7},"value":4},
     "labelOverlap":false,"labelFlush":false,"labelBound":false,"labelPadding":2,"titlePadding":4,"grid":false}},
   "y":{"field":"NOx","type":"quantitative","title":"NOx Concentration (ppb)","scale":{"domain":[-2,16],"nice":false},
     "axis":{"values":[-2,0,2,4,6,8,10,12,14,16],"tickSize":6,"labelPadding":3,"titlePadding":3,"titleY":101,"grid":false}},
   "color":{"datum":"NOx","type":"nominal",
     "scale":{"domain":["NO","NO2","NOx"],"range":["#000000","#ff4040","#00ff00"]},
     "legend":{"orient":"none","legendX":667,"legendY":-80,"title":null,"direction":"vertical",
       "symbolType":"M-2,-1M2,1M-1.6,0.7L-0.7,-0.7L0.4,0.7L1.5,-0.7","symbolSize":256,"symbolStrokeWidth":1,
       "symbolOffset":38.5,"labelOffset":-52.5,"padding":4,"rowPadding":3.5,
       "strokeColor":"#707070","fillColor":"transparent",
       "labelFont":"Liberation Sans","labelFontSize":12,"labelColor":"#000000"}},
   "strokeDash":{"datum":"c","type":"nominal",
     "scale":{"domain":["a","b","c"],"range":[[1,0],[1,0],[1,0]]},
     "legend":{"orient":"none","legendX":667,"legendY":-80,"title":null,"direction":"vertical",
       "symbolType":"M-2,-1H2V1H-2Z","symbolSize":256,"symbolStrokeWidth":1,"symbolStrokeColor":"#000000",
       "symbolOffset":38.5,"labelOffset":-52.5,"padding":4,"rowPadding":3.5,
       "strokeColor":"transparent","fillColor":"transparent",
       "labelExpr":"''","labelFont":"Liberation Sans","labelFontSize":12,
       "encode":{"symbols":{"update":{"stroke":{"value":"#000000"},"fill":{"value":"transparent"}}}}}}
  }},
 {"mark":{"type":"line","strokeWidth":1,"clip":true},
  "encoding":{
   "x":{"field":"t","type":"quantitative","axis":null},
   "y":{"field":"NO2","type":"quantitative","title":"NOx Concentration (ppb)"},
   "color":{"datum":"NO2","type":"nominal"},
   "strokeDash":{"datum":"b","type":"nominal"}
  }},
 {"mark":{"type":"line","strokeWidth":1,"clip":true},
  "encoding":{
   "x":{"field":"t","type":"quantitative","axis":{"orient":"top","labels":false,"ticks":false,"title":null,"domainColor":"#000000","grid":false}},
   "y":{"field":"NO","type":"quantitative","title":"NOx Concentration (ppb)"},
   "color":{"datum":"NO","type":"nominal"},
   "strokeDash":{"datum":"a","type":"nominal"}
  }}
],
"resolve":{"axis":{"x":"independent"}},
"config":{
 "view":{"stroke":"#a0a0a0","strokeWidth":1},
 "axis":{"labelFont":"Liberation Sans","labelFontSize":11,"labelColor":"#000000","titleFont":"Liberation Sans","titleFontSize":11,"titleFontWeight":"normal","titleColor":"#000000","domainColor":"#000000","tickColor":"#000000","grid":false}
}
}
